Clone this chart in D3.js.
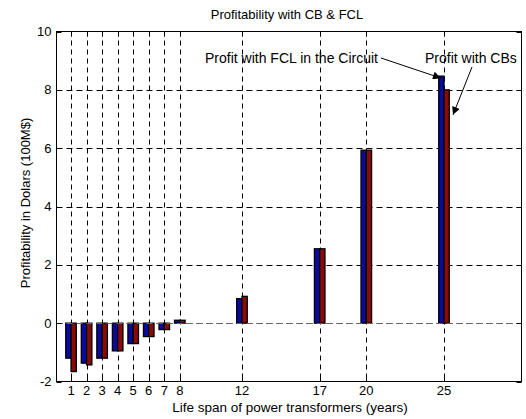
<!DOCTYPE html>
<html><head><meta charset="utf-8">
<script src="https://cdn.jsdelivr.net/npm/d3@7"></script>
<style>body{margin:0;background:#fff}svg{display:block;font-family:"Liberation Sans",Arial,sans-serif}</style>
</head><body><svg id="c" width="526" height="419"></svg>
<script>
const years = [1, 2, 3, 4, 5, 6, 7, 8, 12, 17, 20, 25];
const profitFCL = [-1.2, -1.37, -1.2, -0.95, -0.7, -0.46, -0.22, 0.1, 0.84, 2.55, 5.93, 8.47];
const profitCB = [-1.66, -1.43, -1.2, -0.95, -0.7, -0.46, -0.22, 0.1, 0.92, 2.55, 5.93, 8.0];
const yTicks = [-2, 0, 2, 4, 6, 8, 10];
const xTicks = years;
const title = "Profitability with CB & FCL";
const xLabel = "Life span of power transformers (years)";
const yLabel = "Profitability in Dolars (100M$)";
const noteFCL = "Profit with FCL in the Circuit";
const noteCB = "Profit with CBs";

const svg = d3.select("#c");
const L = 56.5, R = 521.5, T = 31.5, B = 381.5;
const x = d3.scaleLinear().domain([0, 30]).range([55.5, 521.7]);
const y = d3.scaleLinear().domain([-2, 10]).range([B, T]);

// grid
const g = svg.append("g");
g.selectAll(".vg").data(xTicks).join("line")
  .attr("x1", d => Math.round(x(d)) + 0.5).attr("x2", d => Math.round(x(d)) + 0.5)
  .attr("y1", T).attr("y2", B)
  .attr("stroke", "#000").attr("stroke-width", 1).attr("stroke-dasharray", "5,4");
g.selectAll(".hg").data(yTicks.filter(d => d > -2 && d < 10)).join("line")
  .attr("x1", L).attr("x2", R)
  .attr("y1", d => Math.round(y(d)) + 0.5).attr("y2", d => Math.round(y(d)) + 0.5)
  .attr("stroke", "#000").attr("stroke-width", 1).attr("stroke-dasharray", "6,4");

// bars
const bw = 0.34;
const series = [{vals: profitFCL, color: "#0a0aa0", off: -bw / 2}, {vals: profitCB, color: "#8a0a0a", off: bw / 2}];
series.forEach(s => {
  svg.append("g").selectAll("rect").data(years.map((yr, i) => ({yr, v: s.vals[i]}))).join("rect")
    .attr("x", d => x(d.yr + s.off - bw / 2))
    .attr("width", x(bw) - x(0))
    .attr("y", d => y(Math.max(0, d.v)))
    .attr("height", d => Math.abs(y(d.v) - y(0)))
    .attr("fill", s.color).attr("stroke", "#000").attr("stroke-width", 1.3);
});

// zero line (dashed over bars, grey)
svg.append("line").attr("x1", L).attr("x2", R)
  .attr("y1", Math.round(y(0)) + 0.5).attr("y2", Math.round(y(0)) + 0.5)
  .attr("stroke", "#666").attr("stroke-width", 1).attr("stroke-dasharray", "6,4");

// box
svg.append("rect").attr("x", L).attr("y", T).attr("width", R - L).attr("height", B - T)
  .attr("fill", "none").attr("stroke", "#000").attr("stroke-width", 1);

// ticks
const tk = svg.append("g");
tk.selectAll(".xt").data(xTicks).join("line")
  .attr("x1", d => Math.round(x(d)) + 0.5).attr("x2", d => Math.round(x(d)) + 0.5)
  .attr("y1", B).attr("y2", B - 5).attr("stroke", "#000");
tk.selectAll(".xt2").data(xTicks).join("line")
  .attr("x1", d => Math.round(x(d)) + 0.5).attr("x2", d => Math.round(x(d)) + 0.5)
  .attr("y1", T).attr("y2", T + 5).attr("stroke", "#000");
tk.selectAll(".yt").data(yTicks).join("line")
  .attr("x1", L).attr("x2", L + 5)
  .attr("y1", d => Math.round(y(d)) + 0.5).attr("y2", d => Math.round(y(d)) + 0.5).attr("stroke", "#000");
tk.selectAll(".yt2").data(yTicks).join("line")
  .attr("x1", R).attr("x2", R - 5)
  .attr("y1", d => Math.round(y(d)) + 0.5).attr("y2", d => Math.round(y(d)) + 0.5).attr("stroke", "#000");

// tick labels
svg.append("g").selectAll("text").data(xTicks).join("text")
  .attr("x", d => x(d)).attr("y", B + 13.5).attr("text-anchor", "middle")
  .attr("font-size", 13).text(d => d);
svg.append("g").selectAll("text").data(yTicks).join("text")
  .attr("x", L - 5).attr("y", d => y(d) + 4.5).attr("text-anchor", "end")
  .attr("font-size", 13).text(d => d);

// titles
svg.append("text").attr("x", 287).attr("y", 19).attr("text-anchor", "middle").attr("font-size", 13).text(title);
svg.append("text").attr("x", 290).attr("y", 412).attr("text-anchor", "middle").attr("font-size", 13.5).text(xLabel);
svg.append("text").attr("transform", "translate(30,203) rotate(-90)").attr("text-anchor", "middle").attr("font-size", 13).text(yLabel);

// annotations
svg.append("defs").append("marker").attr("id", "ah").attr("viewBox", "0 0 10 10")
  .attr("refX", 10).attr("refY", 5).attr("markerWidth", 11).attr("markerHeight", 8)
  .attr("markerUnits", "userSpaceOnUse").attr("orient", "auto")
  .append("path").attr("d", "M0,0 L10,5 L0,10 Z").attr("fill", "#000");
svg.append("text").attr("x", 205).attr("y", 63).attr("font-size", 14).text(noteFCL);
svg.append("text").attr("x", 425).attr("y", 63).attr("font-size", 14).text(noteCB);
svg.append("line").attr("x1", 381).attr("y1", 58).attr("x2", x(25) - 3).attr("y2", y(8.47) + 2)
  .attr("stroke", "#000").attr("marker-end", "url(#ah)");
svg.append("line").attr("x1", 472).attr("y1", 67).attr("x2", x(25) + 9).attr("y2", y(8.0) + 25)
  .attr("stroke", "#000").attr("marker-end", "url(#ah)");
</script></body></html>
